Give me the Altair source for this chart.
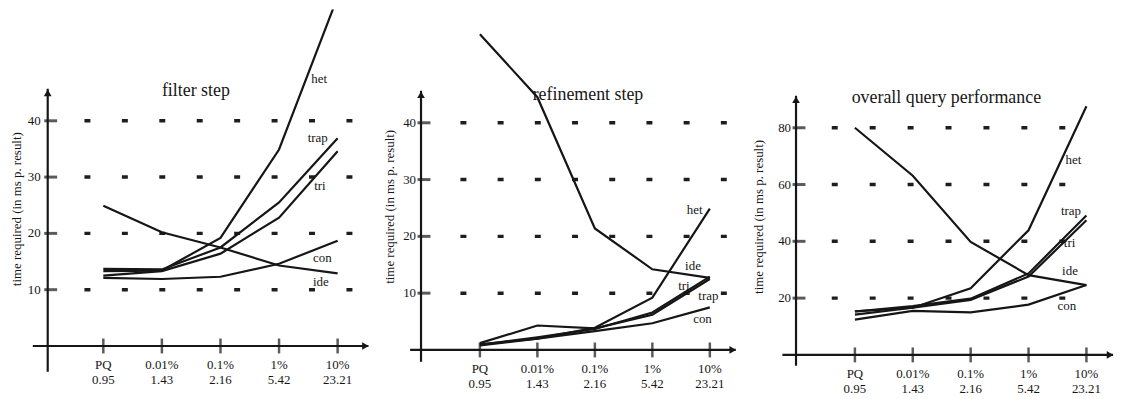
import altair as alt
import pandas as pd

# ---------------- data ----------------
categories = ["PQ", "0.01%", "0.1%", "1%", "10%"]
selectivity = ["0.95", "1.43", "2.16", "5.42", "23.21"]
series_names = ["het", "trap", "tri", "con", "ide"]

# filter step
filter_het = [13.3, 13.4, 19.2, 34.9, 62.0]
filter_trap = [13.7, 13.6, 17.5, 25.5, 36.9]
filter_tri = [12.5, 13.3, 16.4, 22.8, 34.6]
filter_con = [12.1, 11.9, 12.3, 14.6, 18.7]
filter_ide = [24.9, 20.2, 17.5, 14.3, 12.9]
filter_yticks = [10, 20, 30, 40]

# refinement step
refine_het = [1.0, 2.0, 3.9, 9.2, 24.9]
refine_trap = [1.2, 4.3, 3.8, 6.2, 12.5]
refine_tri = [0.9, 2.2, 3.7, 6.6, 12.9]
refine_con = [0.8, 2.0, 3.3, 4.7, 7.5]
refine_ide = [55.6, 44.5, 21.4, 14.2, 12.7]
refine_yticks = [10, 20, 30, 40]

# overall query performance
overall_het = [15.3, 16.6, 23.5, 43.9, 87.6]
overall_trap = [15.3, 17.2, 19.8, 28.7, 49.1]
overall_tri = [14.2, 16.6, 19.4, 27.6, 47.4]
overall_con = [12.4, 15.5, 15.0, 17.7, 24.6]
overall_ide = [80.0, 63.1, 39.8, 28.1, 24.6]
overall_yticks = [20, 40, 60, 80]

# annotation anchors (data units: x = category index, y = value)
filter_label_x = [3.55, 3.49, 3.60, 3.58, 3.58]
filter_label_y = [47.4, 36.9, 28.4, 15.7, 11.3]
refine_label_x = [3.60, 3.80, 3.45, 3.71, 3.57]
refine_label_y = [24.7, 9.5, 11.2, 5.4, 14.7]
overall_label_x = [3.64, 3.56, 3.61, 3.50, 3.58]
overall_label_y = [68.5, 50.5, 39.4, 17.2, 29.5]

ylabel_text = "time required (in ms p. result)"

FONT = "Liberation Serif"
INK = "#161616"
H = 391

# ---------------- layout (page pixels) ----------------
L1 = dict(left=8, right=388, pq=104, step=59, zero=347, ppu=5.67, yaxis=48, ybot=373, ytop=88,
          xl=33, xr=371, gl=85, gr=355, period=37.7, title=(1.58, 45.3), ylab=(-1.48, 24.3), ydx=-7)
L2 = dict(left=388, right=760, pq=483.3, step=57.9, zero=351, ppu=5.72, yaxis=424, ybot=363, ytop=90,
          xl=413, xr=741, gl=463.7, gr=732, period=37.47, title=(1.88, 44.8), ylab=(-1.56, 25.2), ydx=-5)
L3 = dict(left=760, right=1126, pq=861, step=58.3, zero=356, ppu=2.86, yaxis=801.7, ybot=367, ytop=95,
          xl=788, xr=1121, gl=837.7, gr=1073, period=38.2, title=(1.58, 90.6), ylab=(-1.66, 48.6), ydx=-5)


def build_panel(title, values, yticks, lab_x, lab_y, L):
    W = L["right"] - L["left"]
    xv = lambda px: (px - L["pq"]) / L["step"]
    yv = lambda py: (L["zero"] - py) / L["ppu"]
    xs = alt.Scale(domain=[xv(L["left"]), xv(L["right"])], nice=False, zero=False)
    ys = alt.Scale(domain=[yv(8 + H), yv(8)], nice=False, zero=False)

    def X(f):
        return alt.X(f, type="quantitative", scale=xs, axis=None)

    def Y(f):
        return alt.Y(f, type="quantitative", scale=ys, axis=None)

    rows = []
    for name, vals in zip(series_names, values):
        for i, v in enumerate(vals):
            rows.append({"s": name, "xi": i, "v": v})
    lines_df = pd.DataFrame(rows)

    axis_df = pd.DataFrame([{
        "x0": xv(L["xl"]), "x1": xv(L["xr"]), "y0": 0.0,
        "yx": xv(L["yaxis"]), "yb": yv(L["ybot"]), "yt": yv(L["ytop"]),
        "ax": xv(L["xr"] - 3), "ay": yv(L["ytop"] + 4),
    }])
    grid_df = pd.DataFrame([{"g0": xv(L["gl"]), "g1": xv(L["gr"]), "v": t,
                             "yx": xv(L["yaxis"]), "lab": str(t)} for t in yticks])
    xt_df = pd.DataFrame([{"xi": i, "y0": 0.0, "cat": c, "sel": s}
                          for i, (c, s) in enumerate(zip(categories, selectivity))])
    lab_df = pd.DataFrame({"s": series_names, "lx": lab_x, "ly": lab_y})
    title_df = pd.DataFrame([{"tx": L["title"][0], "ty": L["title"][1], "t": title,
                              "lx": L["ylab"][0], "ly": L["ylab"][1], "yl": ylabel_text}])

    grid = alt.Chart(grid_df).mark_rule(strokeDash=[6, L["period"] - 6], strokeWidth=3.5, color="#1e1e1e").encode(
        x=X("g0"), x2="g1", y=Y("v"))
    xaxis = alt.Chart(axis_df).mark_rule(strokeWidth=2.2, color=INK).encode(x=X("x0"), x2="x1", y=Y("y0"))
    yaxis = alt.Chart(axis_df).mark_rule(strokeWidth=2.2, color=INK).encode(x=X("yx"), y=Y("yb"), y2="yt")
    xarrow = alt.Chart(axis_df).mark_point(shape="triangle-right", filled=True, size=60, color=INK, opacity=1).encode(
        x=X("ax"), y=Y("y0"))
    yarrow = alt.Chart(axis_df).mark_point(shape="triangle-up", filled=True, size=60, color=INK, opacity=1).encode(
        x=X("yx"), y=Y("ay"))
    yt = alt.Chart(grid_df).mark_tick(orient="horizontal", size=13, thickness=3, color=INK, xOffset=3).encode(
        x=X("yx"), y=Y("v"))
    ytl = alt.Chart(grid_df).mark_text(align="right", baseline="middle", dx=L["ydx"], fontSize=13, font=FONT,
                                       color=INK).encode(x=X("yx"), y=Y("v"), text="lab:N")
    xt = alt.Chart(xt_df).mark_tick(orient="vertical", size=15, thickness=2.5, color=INK).encode(
        x=X("xi"), y=Y("y0"))
    xtl1 = alt.Chart(xt_df).mark_text(baseline="middle", dy=19, fontSize=13, font=FONT, color=INK).encode(
        x=X("xi"), y=Y("y0"), text="cat:N")
    xtl2 = alt.Chart(xt_df).mark_text(baseline="middle", dy=34, fontSize=13, font=FONT, color=INK).encode(
        x=X("xi"), y=Y("y0"), text="sel:N")
    lines = alt.Chart(lines_df).mark_line(clip=True, strokeWidth=2.2, color=INK).encode(
        x=X("xi"), y=Y("v"), detail="s:N")
    labels = alt.Chart(lab_df).mark_text(align="left", baseline="middle", fontSize=13, font=FONT, color=INK).encode(
        x=X("lx"), y=Y("ly"), text="s:N")
    ttl = alt.Chart(title_df).mark_text(baseline="middle", fontSize=18, font=FONT, color=INK).encode(
        x=X("tx"), y=Y("ty"), text="t:N")
    ylab = alt.Chart(title_df).mark_text(baseline="middle", angle=270, fontSize=13, font=FONT, color=INK).encode(
        x=X("lx"), y=Y("ly"), text="yl:N")

    return alt.layer(grid, xaxis, yaxis, xarrow, yarrow, yt, ytl, xt, xtl1, xtl2, lines, labels, ttl, ylab
                     ).properties(width=W, height=H)


p1 = build_panel("filter step", [filter_het, filter_trap, filter_tri, filter_con, filter_ide],
                 filter_yticks, filter_label_x, filter_label_y, L1)
p2 = build_panel("refinement step", [refine_het, refine_trap, refine_tri, refine_con, refine_ide],
                 refine_yticks, refine_label_x, refine_label_y, L2)
p3 = build_panel("overall query performance", [overall_het, overall_trap, overall_tri, overall_con, overall_ide],
                 overall_yticks, overall_label_x, overall_label_y, L3)

chart = alt.hconcat(p1, p2, p3, spacing=0, bounds="flush").properties(
    padding=0, background="white"
).configure_view(stroke=None)

chart.save("out.html", embed_options={"renderer": "svg", "actions": False})
